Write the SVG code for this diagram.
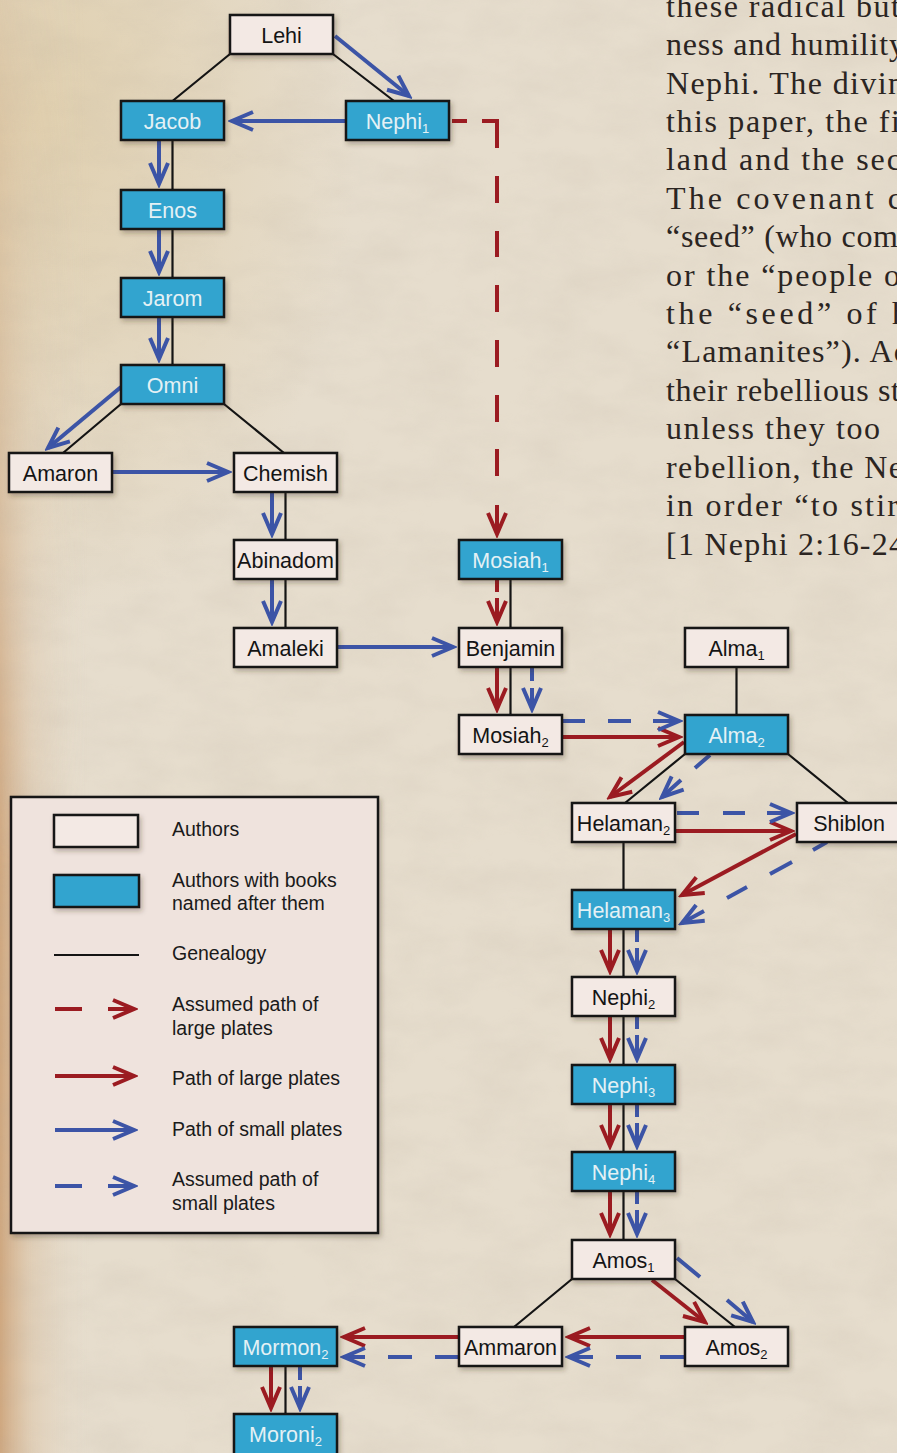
<svg xmlns="http://www.w3.org/2000/svg" width="897" height="1453" viewBox="0 0 897 1453">
<style>
.gen{stroke:#141414;stroke-width:2.2;fill:none}
.r{stroke:#9b1b21;stroke-width:4;fill:none}
.b{stroke:#3c54a6;stroke-width:4;fill:none}
.ra{marker-end:url(#ar)}
.ba{marker-end:url(#ab)}
.nw{fill:#f3e9e4;stroke:#141414;stroke-width:2.5}
.nb{fill:#33a4cf;stroke:#141414;stroke-width:2.5}
.t{font-family:"Liberation Sans",Arial,sans-serif;font-size:21.5px;text-anchor:middle;fill:#141414}
.tb{fill:#e4f1f5}
.s{font-size:13px}
.lg{font-family:"Liberation Sans",Arial,sans-serif;font-size:19.5px;fill:#1a1a1a}
.body{font-family:"Liberation Serif","Times New Roman",serif;font-size:32px;fill:#2b2522}
</style>
<defs>
<linearGradient id="bgL" x1="0" y1="0" x2="1" y2="0">
<stop offset="0" stop-color="#c99a6c" stop-opacity="0.8"/>
<stop offset="0.035" stop-color="#d6b48f" stop-opacity="0.35"/>
<stop offset="0.1" stop-color="#e5dccc" stop-opacity="0"/>
</linearGradient>
<linearGradient id="fadeV" x1="0" y1="0" x2="0" y2="1">
<stop offset="0" stop-color="#fff" stop-opacity="0.15"/>
<stop offset="0.35" stop-color="#fff" stop-opacity="0.5"/>
<stop offset="0.6" stop-color="#fff" stop-opacity="1"/>
<stop offset="1" stop-color="#fff" stop-opacity="1"/>
</linearGradient>
<mask id="mV"><rect x="0" y="0" width="897" height="1453" fill="url(#fadeV)"/></mask>
<radialGradient id="bgT" cx="0.05" cy="0.08" r="0.35">
<stop offset="0" stop-color="#dcc79c" stop-opacity="0.6"/>
<stop offset="1" stop-color="#dcc79c" stop-opacity="0"/>
</radialGradient>
<filter id="tex" x="0" y="0" width="100%" height="100%">
<feTurbulence type="fractalNoise" baseFrequency="0.015 0.03" numOctaves="4" seed="3"/>
<feColorMatrix values="0 0 0 0 0.45 0 0 0 0 0.38 0 0 0 0 0.3 0.35 0 0 0 -0.12"/>
</filter>
<filter id="sh" x="-20%" y="-30%" width="150%" height="180%">
<feDropShadow dx="2" dy="3" stdDeviation="2.5" flood-color="#3a2a1a" flood-opacity="0.3"/>
</filter>
<marker id="ar" markerUnits="userSpaceOnUse" orient="auto" markerWidth="32" markerHeight="28" viewBox="-28 -14 32 28" refX="0" refY="0">
<path d="M-21,-9 L0,0 L-21,9" fill="none" stroke="#9b1b21" stroke-width="4"/>
</marker>
<marker id="ab" markerUnits="userSpaceOnUse" orient="auto" markerWidth="32" markerHeight="28" viewBox="-28 -14 32 28" refX="0" refY="0">
<path d="M-21,-9 L0,0 L-21,9" fill="none" stroke="#3c54a6" stroke-width="4"/>
</marker>
</defs>

<g id="background">
<rect x="0" y="0" width="897" height="1453" fill="#e6ddcd"/>
<rect x="0" y="0" width="897" height="1453" fill="url(#bgT)"/>
<rect x="0" y="0" width="897" height="1453" fill="url(#bgL)" mask="url(#mV)"/>
<rect x="0" y="0" width="897" height="1453" filter="url(#tex)" opacity="0.6"/>
</g>

<g id="body-text" class="body">
<text x="666" y="17" textLength="234" lengthAdjust="spacing">these radical but</text>
<text x="666" y="55" textLength="239" lengthAdjust="spacing">ness and humility</text>
<text x="666" y="94" textLength="238" lengthAdjust="spacing">Nephi. The divin</text>
<text x="666" y="132" textLength="234" lengthAdjust="spacing">this paper, the fi</text>
<text x="666" y="170" textLength="235" lengthAdjust="spacing">land and the sec</text>
<text x="666" y="209" textLength="236" lengthAdjust="spacing">The covenant c</text>
<text x="666" y="247" textLength="232" lengthAdjust="spacing">“seed” (who com</text>
<text x="666" y="286" textLength="234" lengthAdjust="spacing">or the “people o</text>
<text x="666" y="324" textLength="242" lengthAdjust="spacing">the “seed” of h</text>
<text x="666" y="362" textLength="242" lengthAdjust="spacing">“Lamanites”). Ac</text>
<text x="666" y="401" textLength="234" lengthAdjust="spacing">their rebellious st</text>
<text x="666" y="439" textLength="214" lengthAdjust="spacing">unless they too</text>
<text x="666" y="478" textLength="237" lengthAdjust="spacing">rebellion, the Ne</text>
<text x="666" y="516" textLength="232" lengthAdjust="spacing">in order “to stir</text>
<text x="666" y="555" textLength="239" lengthAdjust="spacing">[1 Nephi 2:16-24</text>
</g>

<g id="connectors">
<!-- genealogy -->
<path class="gen" d="M230,54 L172.5,101 M333,54 L394,101 M172.5,140 L172.5,365 M121,404 L63,453 M224,404 L284,453 M285.5,492 L285.5,628 M510.5,579 L510.5,715 M736.5,667 L736.5,715 M685,754 L625,803 M788,754 L848,803 M623.5,842 L623.5,1240 M572,1279 L514,1327 M675,1279 L735,1327 M285.5,1366 L285.5,1414"/>
<!-- small plates -->
<path class="b ba" d="M335,36 L409,96"/>
<path class="b ba" d="M346,121 L232,121"/>
<path class="b ba" d="M159,141 L159,184"/>
<path class="b ba" d="M159,230 L159,272"/>
<path class="b ba" d="M159,318 L159,359"/>
<path class="b ba" d="M121,387 L48,448"/>
<path class="b ba" d="M112,472 L228,472"/>
<path class="b ba" d="M272,493 L272,534"/>
<path class="b ba" d="M272,580 L272,622"/>
<path class="b ba" d="M338,647 L453,647"/>
<!-- assumed large plates -->
<path class="r ra" d="M452,121 L467,121 M482,121 L497,121 L497,148 M497,176 L497,203 M497,231 L497,257 M497,285 L497,312 M497,340 L497,367 M497,395 L497,422 M497,449 L497,476 M497,505 L497,534"/>
<path class="r ra" d="M497,580 L497,592 M497,598 L497,622"/>
<!-- large plates -->
<path class="r ra" d="M497,668 L497,709"/>
<path class="r ra" d="M562,737 L679,737"/>
<path class="r ra" d="M684,742 L610,797"/>
<path class="r ra" d="M675,831 L791,831"/>
<path class="r ra" d="M796,834 L682,895"/>
<path class="r ra" d="M610,930 L610,971"/>
<path class="r ra" d="M610,1017 L610,1059"/>
<path class="r ra" d="M610,1105 L610,1146"/>
<path class="r ra" d="M610,1192 L610,1234"/>
<path class="r ra" d="M652,1280 L705,1322"/>
<path class="r ra" d="M685,1337 L569,1337"/>
<path class="r ra" d="M459,1337 L344,1337"/>
<path class="r ra" d="M271,1367 L271,1408"/>
<!-- assumed small plates -->
<path class="b ba" d="M532,668 L532,681 M532,688 L532,709"/>
<path class="b ba" d="M563,721 L585,721 M608,721 L631,721 M653,721 L679,721"/>
<path class="b ba" d="M710,755 L695,768 M681,780 L662,797"/>
<path class="b ba" d="M677,813 L699,813 M723,813 L745,813 M767,813 L791,813"/>
<path class="b ba" d="M827,842 L813,850 M792,862 L770,874 M747,887 L727,898 M704,911 L682,923"/>
<path class="b ba" d="M637,930 L637,942 M637,948 L637,971"/>
<path class="b ba" d="M637,1017 L637,1029 M637,1035 L637,1059"/>
<path class="b ba" d="M637,1105 L637,1117 M637,1123 L637,1146"/>
<path class="b ba" d="M637,1192 L637,1204 M637,1210 L637,1234"/>
<path class="b ba" d="M677,1258 L700,1277 M727,1300 L753,1322"/>
<path class="b ba" d="M685,1357 L660,1357 M641,1357 L616,1357 M593,1357 L569,1357"/>
<path class="b ba" d="M459,1357 L435,1357 M412,1357 L388,1357 M365,1357 L344,1357"/>
<path class="b ba" d="M300,1367 L300,1380 M300,1386 L300,1408"/>
</g>

<g id="nodes">
<g id="n-lehi"><rect class="nw" filter="url(#sh)" x="230" y="15" width="103" height="39"/><text class="t" x="281.5" y="43">Lehi</text></g>
<g id="n-jacob"><rect class="nb" filter="url(#sh)" x="121" y="101" width="103" height="39"/><text class="t tb" x="172.5" y="129">Jacob</text></g>
<g id="n-nephi1"><rect class="nb" filter="url(#sh)" x="346" y="101" width="103" height="39"/><text class="t tb" x="397.5" y="129">Nephi<tspan class="s" dy="4">1</tspan></text></g>
<g id="n-enos"><rect class="nb" filter="url(#sh)" x="121" y="190" width="103" height="39"/><text class="t tb" x="172.5" y="218">Enos</text></g>
<g id="n-jarom"><rect class="nb" filter="url(#sh)" x="121" y="278" width="103" height="39"/><text class="t tb" x="172.5" y="306">Jarom</text></g>
<g id="n-omni"><rect class="nb" filter="url(#sh)" x="121" y="365" width="103" height="39"/><text class="t tb" x="172.5" y="393">Omni</text></g>
<g id="n-amaron"><rect class="nw" filter="url(#sh)" x="9" y="453" width="103" height="39"/><text class="t" x="60.5" y="481">Amaron</text></g>
<g id="n-chemish"><rect class="nw" filter="url(#sh)" x="234" y="453" width="103" height="39"/><text class="t" x="285.5" y="481">Chemish</text></g>
<g id="n-abinadom"><rect class="nw" filter="url(#sh)" x="234" y="540" width="103" height="39"/><text class="t" x="285.5" y="568">Abinadom</text></g>
<g id="n-amaleki"><rect class="nw" filter="url(#sh)" x="234" y="628" width="103" height="39"/><text class="t" x="285.5" y="656">Amaleki</text></g>
<g id="n-mosiah1"><rect class="nb" filter="url(#sh)" x="459" y="540" width="103" height="39"/><text class="t tb" x="510.5" y="568">Mosiah<tspan class="s" dy="4">1</tspan></text></g>
<g id="n-benjamin"><rect class="nw" filter="url(#sh)" x="459" y="628" width="103" height="39"/><text class="t" x="510.5" y="656">Benjamin</text></g>
<g id="n-mosiah2"><rect class="nw" filter="url(#sh)" x="459" y="715" width="103" height="39"/><text class="t" x="510.5" y="743">Mosiah<tspan class="s" dy="4">2</tspan></text></g>
<g id="n-alma1"><rect class="nw" filter="url(#sh)" x="685" y="628" width="103" height="39"/><text class="t" x="736.5" y="656">Alma<tspan class="s" dy="4">1</tspan></text></g>
<g id="n-alma2"><rect class="nb" filter="url(#sh)" x="685" y="715" width="103" height="39"/><text class="t tb" x="736.5" y="743">Alma<tspan class="s" dy="4">2</tspan></text></g>
<g id="n-helaman2"><rect class="nw" filter="url(#sh)" x="572" y="803" width="103" height="39"/><text class="t" x="623.5" y="831">Helaman<tspan class="s" dy="4">2</tspan></text></g>
<g id="n-shiblon"><rect class="nw" filter="url(#sh)" x="797" y="803" width="104" height="39"/><text class="t" x="849" y="831">Shiblon</text></g>
<g id="n-helaman3"><rect class="nb" filter="url(#sh)" x="572" y="890" width="103" height="39"/><text class="t tb" x="623.5" y="918">Helaman<tspan class="s" dy="4">3</tspan></text></g>
<g id="n-nephi2"><rect class="nw" filter="url(#sh)" x="572" y="977" width="103" height="39"/><text class="t" x="623.5" y="1005">Nephi<tspan class="s" dy="4">2</tspan></text></g>
<g id="n-nephi3"><rect class="nb" filter="url(#sh)" x="572" y="1065" width="103" height="39"/><text class="t tb" x="623.5" y="1093">Nephi<tspan class="s" dy="4">3</tspan></text></g>
<g id="n-nephi4"><rect class="nb" filter="url(#sh)" x="572" y="1152" width="103" height="39"/><text class="t tb" x="623.5" y="1180">Nephi<tspan class="s" dy="4">4</tspan></text></g>
<g id="n-amos1"><rect class="nw" filter="url(#sh)" x="572" y="1240" width="103" height="39"/><text class="t" x="623.5" y="1268">Amos<tspan class="s" dy="4">1</tspan></text></g>
<g id="n-ammaron"><rect class="nw" filter="url(#sh)" x="459" y="1327" width="103" height="39"/><text class="t" x="510.5" y="1355">Ammaron</text></g>
<g id="n-amos2"><rect class="nw" filter="url(#sh)" x="685" y="1327" width="103" height="39"/><text class="t" x="736.5" y="1355">Amos<tspan class="s" dy="4">2</tspan></text></g>
<g id="n-mormon2"><rect class="nb" filter="url(#sh)" x="234" y="1327" width="103" height="39"/><text class="t tb" x="285.5" y="1355">Mormon<tspan class="s" dy="4">2</tspan></text></g>
<g id="n-moroni2"><rect class="nb" filter="url(#sh)" x="234" y="1414" width="103" height="41"/><text class="t tb" x="285.5" y="1442">Moroni<tspan class="s" dy="4">2</tspan></text></g>
</g>

<g id="legend">
<rect x="11" y="797" width="367" height="436" fill="#efe3dd" stroke="#141414" stroke-width="2.5" filter="url(#sh)"/>
<rect class="nw" x="54" y="815" width="84" height="32" filter="url(#sh)"/>
<rect class="nb" x="54" y="875" width="85" height="32" filter="url(#sh)"/>
<path class="gen" d="M54,955 L139,955"/>
<path class="r ra" d="M55,1009 L82,1009 M108,1009 L134,1009"/>
<path class="r ra" d="M55,1076 L134,1076"/>
<path class="b ba" d="M55,1130 L134,1130"/>
<path class="b ba" d="M55,1186 L82,1186 M108,1186 L134,1186"/>
<text class="lg" x="172" y="836">Authors</text>
<text class="lg" x="172" y="887">Authors with books</text>
<text class="lg" x="172" y="910">named after them</text>
<text class="lg" x="172" y="960">Genealogy</text>
<text class="lg" x="172" y="1011">Assumed path of</text>
<text class="lg" x="172" y="1035">large plates</text>
<text class="lg" x="172" y="1085">Path of large plates</text>
<text class="lg" x="172" y="1136">Path of small plates</text>
<text class="lg" x="172" y="1186">Assumed path of</text>
<text class="lg" x="172" y="1210">small plates</text>
</g>
</svg>
